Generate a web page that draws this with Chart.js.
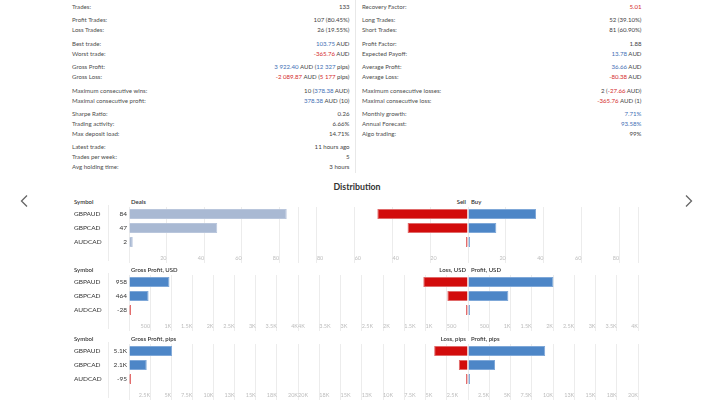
<!DOCTYPE html>
<html><head><meta charset="utf-8">
<script src="https://cdn.jsdelivr.net/npm/chart.js@4.4.1/dist/chart.umd.min.js"></script>
<style>
html,body{margin:0;padding:0;background:#fff;}
body{width:714px;height:401px;position:relative;overflow:hidden;font-family:Lato,'Open Sans',sans-serif;color:#4e4e4e;}
.t{position:absolute;white-space:nowrap;height:10px;line-height:10px;font-size:6.1px;}
.v{color:#444;}
.u{color:#3f6fb5}.n{color:#d42a2a}
.h{position:absolute;white-space:nowrap;height:10px;line-height:10px;font-size:6px;font-weight:600;color:#333;}
canvas{position:absolute;}
</style></head><body>
<div style="position:absolute;left:355px;top:0;width:1px;height:173px;background:#e8e8e8"></div>
<div class="t" style="left:0;width:714px;top:182px;text-align:center;font-size:8.8px;font-weight:bold;color:#333;">Distribution</div>
<svg style="position:absolute;left:0;top:0" width="714" height="401">
<polyline points="27,195.5 21.5,201 27,206.5" fill="none" stroke="#666" stroke-width="1.3"/>
<polyline points="686,195.5 691.5,201 686,206.5" fill="none" stroke="#666" stroke-width="1.3"/>
</svg>
<script>
// ---- data ----
const symbols = ['GBPAUD', 'GBPCAD', 'AUDCAD'];
const deals = [84, 47, 2];
const sellDeals = [48, 32, 1];
const buyDeals = [36, 15, 1];
const netUsd = [958, 464, -28];
const lossUsd = [1052, 486, 44];
const profitUsd = [2010, 950, 16];
const netPips = [5100, 2100, -95];
const lossPips = [3980, 1080, 162];
const profitPips = [9080, 3180, 67];
const dealsAxis = {max: 90, step: 20};
const usdAxis = {max: 4000, step: 500};
const pipsAxis = {max: 20000, step: 2500};

const leftStats = [
 [['Trades:','133']],
 [['Profit Trades:','107 (80.45%)'],['Loss Trades:','26 (19.55%)']],
 [['Best trade:','<span class=u>103.75</span> AUD'],['Worst trade:','<span class=n>-365.76</span> AUD']],
 [['Gross Profit:','<span class=u>3 922.40</span> AUD (<span class=u>12 327</span> pips)'],['Gross Loss:','<span class=n>-2 089.87</span> AUD (<span class=n>5 177</span> pips)']],
 [['Maximum consecutive wins:','10 (<span class=u>378.38</span> AUD)'],['Maximal consecutive profit:','<span class=u>378.38</span> AUD (10)']],
 [['Sharpe Ratio:','0.26'],['Trading activity:','6.66%'],['Max deposit load:','14.71%']],
 [['Latest trade:','11 hours ago'],['Trades per week:','5'],['Avg holding time:','3 hours']]
];
const rightStats = [
 [['Recovery Factor:','<span class=n>5.01</span>']],
 [['Long Trades:','52 (39.10%)'],['Short Trades:','81 (60.90%)']],
 [['Profit Factor:','1.88'],['Expected Payoff:','<span class=u>13.78</span> AUD']],
 [['Average Profit:','<span class=u>36.66</span> AUD'],['Average Loss:','<span class=n>-80.38</span> AUD']],
 [['Maximum consecutive losses:','2 (<span class=n>-27.66</span> AUD)'],['Maximal consecutive loss:','<span class=n>-365.76</span> AUD (1)']],
 [['Monthly growth:','<span class=u>7.71%</span>'],['Annual Forecast:','<span class=u>93.58%</span>'],['Algo trading:','99%']]
];

// ---- stats table ----
function addDiv(cls, style, html){const d=document.createElement('div');d.className=cls;d.setAttribute('style',style);d.innerHTML=html;document.body.appendChild(d);return d;}
function statCol(groups, labelX, valueRight){
  let row=0;
  groups.forEach((g,gi)=>{g.forEach(([lab,val])=>{
    const y=6.9+row*10+gi*3.4;
    addDiv('t','left:'+labelX+'px;top:'+(y-5)+'px;',lab);
    addDiv('t v','right:'+(714-valueRight)+'px;top:'+(y-5)+'px;text-align:right;',val);
    row++;});});
}
statCol(leftStats,72,349.5);
statCol(rightStats,362,641.5);

// vertical separators left of the value columns
[207,275,344].forEach(T=>{const d=document.createElement('div');d.setAttribute('style','position:absolute;left:108px;top:'+(T-2)+'px;width:1px;height:56px;background:#ececec');document.body.appendChild(d);});

// ---- charts ----
const LIGHT='#a9b9d3', BLUE='#4d86c7', RED='#d20c0c';
const fmtK = v => {const a=Math.abs(v); if(a<1000) return String(v); const k=v/1000;
  return (Math.abs(k)<10 ? (Number.isInteger(k)?String(k):k.toFixed(1)) : String(Math.round(k)))+'K';};
function zeroPad(s){s.paddingTop=0;s.paddingBottom=0;s.paddingLeft=0;s.paddingRight=0;}
function mkCanvas(l,t,w,h){const c=document.createElement('canvas');c.width=w;c.height=h;c.style.left=l+'px';c.style.top=t+'px';c.style.width=w+'px';c.style.height=h+'px';document.body.appendChild(c);return c;}
const tickFont={family:'Lato, Open Sans, sans-serif',size:5.5};
function xScale(ax, align, reverse){
  return {type:'linear',min:0,max:ax.max,reverse:!!reverse,position:'bottom',
    grid:{color:'#ececec',tickLength:14,drawTicks:true,lineWidth:1},
    border:{display:false},
    ticks:{stepSize:ax.step,autoSkip:false,maxRotation:0,minRotation:0,align:align,padding:-8,color:'#bdbdbd',font:tickFont,
      callback:(v)=> (v===0 || v%ax.step!==0) ? '' : fmtK(v)},
    afterFit(s){s.height=20;zeroPad(s);}};
}
const baseOpts = () => ({indexAxis:'y',responsive:false,animation:false,devicePixelRatio:1,
  plugins:{legend:{display:false},tooltip:{enabled:false}},
  datasets:{bar:{categoryPercentage:1,barPercentage:0.7,minBarLength:2,borderWidth:1,borderSkipped:'start'}}});

function barColors(vals, fill){return vals.map(v=> v<0?RED:fill);}
function borderCols(vals, fill){return vals.map(v=> (v<0||fill===RED)?'#e06a6a':(fill===LIGHT?'#b9c6dc':'#7fa8d8'));}

const rows=[
 {T:207, title:'Deals', lt:'Sell', rt:'Buy', total:deals, neg:sellDeals, pos:buyDeals, ax:dealsAxis, fill:LIGHT},
 {T:275, title:'Gross Profit, USD', lt:'Loss, USD', rt:'Profit, USD', total:netUsd, neg:lossUsd, pos:profitUsd, ax:usdAxis, fill:BLUE},
 {T:344, title:'Gross Profit, pips', lt:'Loss, pips', rt:'Profit, pips', total:netPips, neg:lossPips, pos:profitPips, ax:pipsAxis, fill:BLUE}
];
const labFont={family:'Lato, Open Sans, sans-serif',size:6.5};

rows.forEach(r=>{
  const hy=r.T-4.7-5;
  addDiv('h','left:74px;top:'+hy+'px;','Symbol');
  addDiv('h','left:131px;top:'+hy+'px;',r.title);
  addDiv('h','right:'+(714-466)+'px;top:'+hy+'px;text-align:right;',r.lt);
  addDiv('h','left:471px;top:'+hy+'px;',r.rt);

  // left totals chart
  const o1=baseOpts();
  o1.layout={padding:{left:4,right:3,top:0,bottom:0}};
  o1.scales={
    x:xScale(r.ax,'end',false),
    y:{type:'category',labels:symbols,position:'left',weight:2,offset:true,
       grid:{display:false,drawTicks:false},border:{display:false},
       ticks:{crossAlign:'far',padding:0,color:'#333',font:labFont},
       afterFit(s){s.width=34;zeroPad(s);}},
    y2:{type:'category',labels:r.total.map(fmtK),position:'left',weight:1,offset:true,
       grid:{display:false,drawTicks:false},border:{display:false},
       ticks:{crossAlign:'near',padding:2,color:'#333',font:labFont},
       afterFit(s){s.width=21;zeroPad(s);}}
  };
  new Chart(mkCanvas(70,r.T,231,62),{type:'bar',data:{labels:symbols,datasets:[{
    data:r.total.map(Math.abs),backgroundColor:barColors(r.total,r.fill),borderColor:borderCols(r.total,r.fill)}]},options:o1});

  // left half (negative side, reversed)
  const o2=baseOpts();
  o2.layout={padding:{left:3,right:2,top:0,bottom:0}};
  o2.scales={x:xScale(r.ax,'start',true), y:{type:'category',display:false,afterFit:zeroPad}};
  new Chart(mkCanvas(295,r.T,175,62),{type:'bar',data:{labels:symbols,datasets:[{
    data:r.neg,backgroundColor:RED,borderColor:'#e06a6a'}]},options:o2});

  // right half (positive side)
  const o3=baseOpts();
  o3.layout={padding:{left:2,right:4,top:0,bottom:0}};
  o3.scales={x:xScale(r.ax,'end',false), y:{type:'category',display:false,afterFit:zeroPad}};
  new Chart(mkCanvas(466,r.T,176,62),{type:'bar',data:{labels:symbols,datasets:[{
    data:r.pos,backgroundColor:BLUE,borderColor:'#7fa8d8'}]},options:o3});
});
</script>
</body></html>
